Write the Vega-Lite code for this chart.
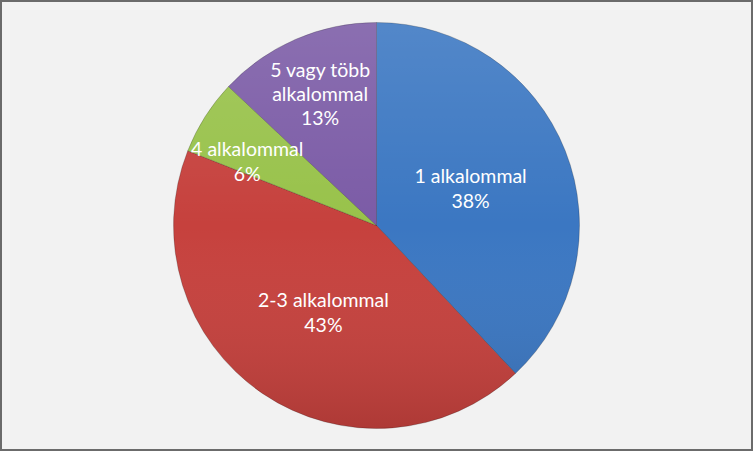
{
  "$schema": "https://vega.github.io/schema/vega-lite/v6.json",
  "width": 753,
  "height": 451,
  "autosize": {"type": "fit", "contains": "padding"},
  "padding": 1,
  "background": "#f2f2f2",
  "view": {"stroke": "#6b6b6b", "strokeWidth": 2, "fill": "#f2f2f2"},

  "data": {
    "values": [
      {"kategoria": "1 alkalommal", "ertek": 38},
      {"kategoria": "2-3 alkalommal", "ertek": 43},
      {"kategoria": "4 alkalommal", "ertek": 6},
      {"kategoria": "5 vagy több alkalommal", "ertek": 13}
    ]
  },

  "transform": [
    {"calculate": "replace(datum.kategoria, 'több ', 'több|') + '|' + datum.ertek + '%'", "as": "cimke"}
  ],

  "encoding": {
    "theta": {"field": "ertek", "type": "quantitative", "stack": true},
    "order": {"field": "kategoria"}
  },

  "layer": [
    {
      "mark": {"type": "arc", "outerRadius": 203, "stroke": "#000000", "strokeOpacity": 0.2, "strokeWidth": 1},
      "encoding": {
        "color": {
          "field": "kategoria",
          "type": "nominal",
          "legend": null,
          "scale": {
            "domain": ["1 alkalommal", "2-3 alkalommal", "4 alkalommal", "5 vagy több alkalommal"],
            "range": ["#3b77c2", "#c6413d", "#98c24a", "#7b5ba6"]
          }
        }
      }
    },
    {
      "transform": [{"aggregate": [{"op": "sum", "field": "ertek", "as": "osszes"}]}],
      "mark": {
        "type": "arc",
        "outerRadius": 203,
        "fill": {
          "gradient": "linear",
          "x1": 0, "y1": 0, "x2": 0, "y2": 1,
          "stops": [
            {"offset": 0, "color": "rgba(255,255,255,0.12)"},
            {"offset": 0.5, "color": "rgba(255,255,255,0)"},
            {"offset": 1, "color": "rgba(0,0,0,0.12)"}
          ]
        }
      },
      "encoding": {
        "theta": {"field": "osszes", "type": "quantitative"},
        "order": null
      }
    },
    {
      "mark": {"type": "text", "radius": 84, "dx": 16, "dy": -18, "font": "Lato", "fontSize": 19.5, "lineBreak": "|", "lineHeight": 25, "baseline": "middle", "align": "center", "color": "#ffffff"},
      "encoding": {
        "text": {"condition": {"test": "datum.kategoria === '1 alkalommal'", "field": "cimke"}, "value": ""}
      }
    },
    {
      "mark": {"type": "text", "radius": 114, "dx": 11, "dy": -19, "font": "Lato", "fontSize": 19.5, "lineBreak": "|", "lineHeight": 25, "baseline": "middle", "align": "center", "color": "#ffffff"},
      "encoding": {
        "text": {"condition": {"test": "datum.kategoria === '2-3 alkalommal'", "field": "cimke"}, "value": ""}
      }
    },
    {
      "mark": {"type": "text", "radius": 146, "dx": -6, "dy": 3, "font": "Lato", "fontSize": 19.5, "lineBreak": "|", "lineHeight": 25, "baseline": "middle", "align": "center", "color": "#ffffff"},
      "encoding": {
        "text": {"condition": {"test": "datum.kategoria === '4 alkalommal'", "field": "cimke"}, "value": ""}
      }
    },
    {
      "mark": {"type": "text", "radius": 142, "dy": -24, "font": "Lato", "fontSize": 19.5, "lineBreak": "|", "lineHeight": 24, "baseline": "middle", "align": "center", "color": "#ffffff"},
      "encoding": {
        "text": {"condition": {"test": "datum.kategoria === '5 vagy több alkalommal'", "field": "cimke"}, "value": ""}
      }
    }
  ]
}
